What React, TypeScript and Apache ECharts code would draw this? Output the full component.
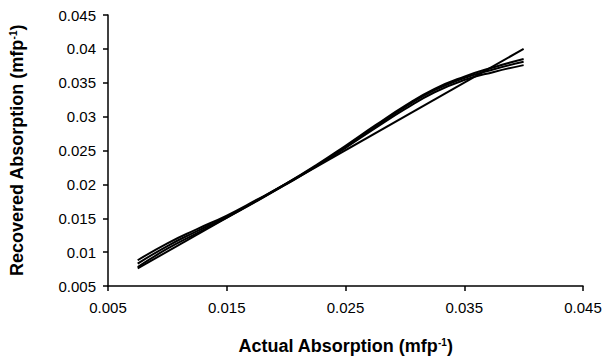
import React, { useEffect, useRef } from "react";
import * as echarts from "echarts";

const actual = [0.0075, 0.01, 0.0125, 0.015, 0.0175, 0.02, 0.0225, 0.025, 0.0275, 0.03, 0.0325, 0.035, 0.0375, 0.04];
const recoveredA = [0.0088, 0.0113, 0.0134, 0.0154, 0.0177, 0.0201, 0.0227, 0.0255, 0.0285, 0.0314, 0.0339, 0.0357, 0.037, 0.0381];
const recoveredB = [0.0083, 0.0109, 0.0131, 0.0152, 0.0176, 0.0201, 0.0228, 0.0257, 0.0287, 0.0316, 0.0341, 0.0359, 0.0373, 0.0385];
const recoveredC = [0.0078, 0.0105, 0.0128, 0.0151, 0.0175, 0.02, 0.0226, 0.0254, 0.0283, 0.0311, 0.0336, 0.0354, 0.0366, 0.0376];
const idealX = [0.0075, 0.04];
const idealY = [0.0076, 0.04];

const ticks = [0.005, 0.01, 0.015, 0.02, 0.025, 0.03, 0.035, 0.04, 0.045];

const pairs = (xs: number[], ys: number[]) => xs.map((x, i) => [x, ys[i]]);

export default function App() {
  const ref = useRef<HTMLDivElement>(null);
  useEffect(() => {
    if (!ref.current) return;
    const chart = echarts.init(ref.current, undefined, { renderer: "svg" });
    const font = "'Liberation Sans', Arial, sans-serif";
    const curveStyle = (d: number[]) => ({
      type: "line" as const,
      data: pairs(actual, d),
      showSymbol: false,
      smooth: true,
      lineStyle: { color: "#000", width: 2 },
    });
    const nameStyle = {
      fontFamily: font,
      fontWeight: "bold",
      fontSize: 18,
      color: "#000",
      rich: { s: { fontSize: 10, fontWeight: "bold", verticalAlign: "top", fontFamily: font, color: "#000", lineHeight: 10 } },
    };
    const fmt = (v: number) => {
      const t = ticks.find((k) => Math.abs(k - v) < 1e-9);
      return String(+(t ?? v).toFixed(3));
    };
    chart.setOption({
      animation: false,
      backgroundColor: "#fff",
      grid: { left: 97, right: 23, top: 15, bottom: 68 },
      xAxis: {
        type: "value",
        min: 0.005,
        max: 0.045,
        interval: 0.01,
        name: "Actual Absorption (mfp{s|-1})",
        nameLocation: "middle",
        nameGap: 51,
        nameTextStyle: nameStyle,
        axisLine: { lineStyle: { color: "#000", width: 1.5 } },
        axisTick: { show: true, length: 5, lineStyle: { color: "#000", width: 1.5 } },
        splitLine: { show: false },
        axisLabel: { fontFamily: font, fontSize: 15, color: "#000", margin: 14, formatter: fmt },
      },
      yAxis: {
        type: "value",
        min: 0.005,
        max: 0.045,
        interval: 0.005,
        name: "Recovered Absorption (mfp{s|-1})",
        nameLocation: "middle",
        nameGap: 82,
        nameTextStyle: nameStyle,
        axisLine: { show: true, lineStyle: { color: "#000", width: 1.5 } },
        axisTick: { show: true, length: 5, lineStyle: { color: "#000", width: 1.5 } },
        splitLine: { show: false },
        axisLabel: { fontFamily: font, fontSize: 15, color: "#000", margin: 12, formatter: fmt },
      },
      series: [
        {
          type: "line",
          data: pairs(idealX, idealY),
          showSymbol: false,
          lineStyle: { color: "#000", width: 2 },
        },
        curveStyle(recoveredA),
        curveStyle(recoveredB),
        curveStyle(recoveredC),
      ],
    });
    return () => chart.dispose();
  }, []);
  return <div ref={ref} style={{ width: 606, height: 360, position: "absolute", left: 0, top: 0 }} />;
}
